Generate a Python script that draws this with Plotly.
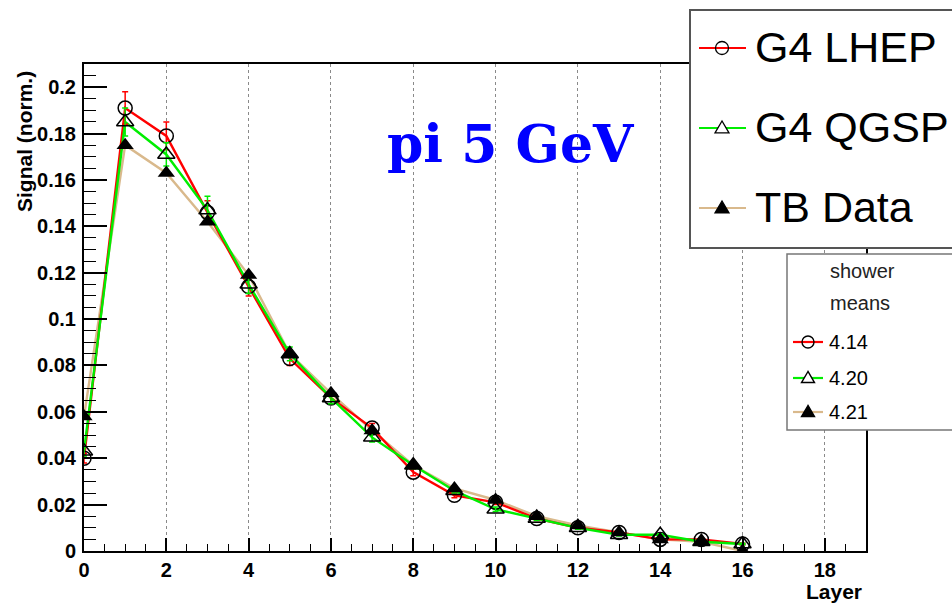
import plotly.graph_objects as go

# Longitudinal shower profile: normalised signal per layer, pi 5 GeV
layers = list(range(17))
lhep = [0.040, 0.191, 0.179, 0.146, 0.114, 0.083, 0.066, 0.053, 0.034, 0.024,
        0.021, 0.014, 0.010, 0.008, 0.005, 0.005, 0.003]
qgsp = [0.043, 0.185, 0.171, 0.147, 0.115, 0.085, 0.066, 0.049, 0.037, 0.026,
        0.018, 0.014, 0.010, 0.007, 0.007, 0.004, 0.003]
tb_data = [0.058, 0.175, 0.163, 0.142, 0.119, 0.085, 0.068, 0.052, 0.037, 0.027,
           0.022, 0.015, 0.011, 0.008, 0.005, 0.004, 0.000]
lhep_err = [0.002, 0.007, 0.006, 0.005, 0.004, 0.003, 0.0025, 0.002, 0.0015, 0.001,
            0.001, 0.0008, 0.0006, 0.0005, 0.0004, 0.0004, 0.0003]
qgsp_err = [0.002, 0.006, 0.005, 0.006, 0.004, 0.003, 0.0025, 0.002, 0.0015, 0.001,
            0.001, 0.0008, 0.0006, 0.0005, 0.0004, 0.0004, 0.0003]

series_names = ["G4 LHEP", "G4 QGSP", "TB Data"]
shower_means = ["4.14", "4.20", "4.21"]
y_tickvals = [0, 0.02, 0.04, 0.06, 0.08, 0.1, 0.12, 0.14, 0.16, 0.18, 0.2]
y_ticktext = ["0", "0.02", "0.04", "0.06", "0.08", "0.1", "0.12", "0.14", "0.16", "0.18", "0.2"]
x_tickvals = [0, 2, 4, 6, 8, 10, 12, 14, 16, 18]

RED, GREEN, TAN = "#ff0000", "#00ee00", "#d9b98c"
W, H = 952, 603
L, R, T, B = 84, 866, 64, 551


def px(x):
    return (x - L) / (R - L)


def py(y):
    return (B - y) / (B - T)


fig = go.Figure()

# connecting lines
for ys, col in [(tb_data, TAN), (lhep, RED), (qgsp, GREEN)]:
    fig.add_trace(go.Scatter(x=layers, y=ys, mode="lines",
                             line=dict(color=col, width=2.4), showlegend=False))

# markers with error bars
fig.add_trace(go.Scatter(
    x=layers, y=lhep, mode="markers", showlegend=False,
    marker=dict(symbol="circle-open", size=14, color="black", line=dict(width=1.5)),
    error_y=dict(type="data", array=lhep_err, color=RED, thickness=1.5, width=3)))
fig.add_trace(go.Scatter(
    x=layers, y=qgsp, mode="markers", showlegend=False,
    marker=dict(symbol="triangle-up-open", size=15, color="black", line=dict(width=1.5)),
    error_y=dict(type="data", array=qgsp_err, color=GREEN, thickness=1.5, width=3)))
fig.add_trace(go.Scatter(
    x=layers, y=tb_data, mode="markers", showlegend=False,
    marker=dict(symbol="triangle-up", size=15, color="black")))

tickfont = dict(family="Liberation Sans", size=20, color="black", weight="bold")
fig.update_xaxes(
    range=[0, 19], tickvals=x_tickvals, ticks="inside", ticklen=13, tickwidth=1.5,
    tickcolor="black", showgrid=True, gridcolor="#8a8a8a", griddash="dot", gridwidth=1,
    minor=dict(dtick=0.5, tick0=0, ticks="inside", ticklen=7, tickwidth=1.2,
               tickcolor="black", showgrid=False),
    showline=True, mirror=True, linecolor="black", linewidth=2, zeroline=False,
    tickfont=tickfont)
fig.update_yaxes(
    range=[0, 0.21], tickvals=y_tickvals, ticktext=y_ticktext, ticks="inside",
    ticklen=23, tickwidth=1.5, tickcolor="black", showgrid=False,
    minor=dict(dtick=0.005, tick0=0, ticks="inside", ticklen=12, tickwidth=1.2,
               tickcolor="black", showgrid=False),
    showline=True, mirror=True, linecolor="black", linewidth=2, zeroline=False,
    tickfont=tickfont, ticklabelstandoff=2)

shapes = []
annotations = []

# axis titles
annotations.append(dict(xref="paper", yref="paper", x=px(24), y=py(142),
                        text="Signal (norm.)", textangle=-90, showarrow=False,
                        xanchor="center", yanchor="middle",
                        font=dict(family="Liberation Sans", size=21, color="black",
                                  weight="bold")))
annotations.append(dict(xref="paper", yref="paper", x=px(864), y=py(591),
                        text="Layer", showarrow=False, xanchor="right", yanchor="middle",
                        font=dict(family="Liberation Sans", size=21, color="black",
                                  weight="bold")))
annotations.append(dict(xref="paper", yref="paper", x=px(511), y=py(143),
                        text="pi 5 GeV", showarrow=False, xanchor="center",
                        yanchor="middle",
                        font=dict(family="DejaVu Serif", size=52, color="#0000ff",
                                  weight="bold")))


def marker_shapes(kind, cx, cy, r, lw):
    if kind == "circle":
        return [dict(type="circle", xref="paper", yref="paper",
                     x0=px(cx - r), x1=px(cx + r), y0=py(cy + r), y1=py(cy - r),
                     line=dict(color="black", width=lw), fillcolor="rgba(0,0,0,0)",
                     layer="above")]
    path = "M {:.5f} {:.5f} L {:.5f} {:.5f} L {:.5f} {:.5f} Z".format(
        px(cx), py(cy - r), px(cx - r), py(cy + r * 0.7), px(cx + r), py(cy + r * 0.7))
    fill = "black" if kind == "tri_fill" else "white"
    return [dict(type="path", xref="paper", yref="paper", path=path,
                 line=dict(color="black", width=lw), fillcolor=fill, layer="above")]


kinds = ["circle", "tri_open", "tri_fill"]
colors = [RED, GREEN, TAN]

# main legend box
shapes.append(dict(type="rect", xref="paper", yref="paper",
                   x0=px(690), x1=px(975), y0=py(248), y1=py(10),
                   fillcolor="white", line=dict(color="#555555", width=2), layer="above"))
for i, (name, kind, col) in enumerate(zip(series_names, kinds, colors)):
    yc = [48, 128, 208][i]
    shapes.append(dict(type="line", xref="paper", yref="paper",
                       x0=px(699), x1=px(746), y0=py(yc), y1=py(yc),
                       line=dict(color=col, width=2.2), layer="above"))
    shapes += marker_shapes(kind, 722, yc, 6.5 if kind == "circle" else 7, 1.3)
    annotations.append(dict(xref="paper", yref="paper", x=px(753), y=py(yc - 1),
                            text=name, showarrow=False, xanchor="left", yanchor="middle",
                            font=dict(family="Liberation Sans", size=43, color="black")))

# shower-means box
shapes.append(dict(type="rect", xref="paper", yref="paper",
                   x0=px(787), x1=px(975), y0=py(430), y1=py(254),
                   fillcolor="white", line=dict(color="#777777", width=1.5), layer="above"))
for txt, yc in [("shower", 271), ("means", 303)]:
    annotations.append(dict(xref="paper", yref="paper", x=px(828), y=py(yc),
                            text=txt, showarrow=False, xanchor="left", yanchor="middle",
                            font=dict(family="Liberation Sans", size=20, color="#222222")))
for i, (val, kind, col) in enumerate(zip(shower_means, kinds, colors)):
    yc = [342, 378, 412][i]
    shapes.append(dict(type="line", xref="paper", yref="paper",
                       x0=px(793), x1=px(823), y0=py(yc), y1=py(yc),
                       line=dict(color=col, width=2.2), layer="above"))
    shapes += marker_shapes(kind, 808, yc, 6 if kind == "circle" else 6.5, 1.4)
    annotations.append(dict(xref="paper", yref="paper", x=px(827), y=py(yc),
                            text=val, showarrow=False, xanchor="left", yanchor="middle",
                            font=dict(family="Liberation Sans", size=20, color="black")))

fig.update_layout(
    width=W, height=H, autosize=False,
    margin=dict(l=L, r=W - R, t=T, b=H - B, pad=0),
    paper_bgcolor="white", plot_bgcolor="white",
    shapes=shapes, annotations=annotations, showlegend=False)

fig.write_html("out.html")
